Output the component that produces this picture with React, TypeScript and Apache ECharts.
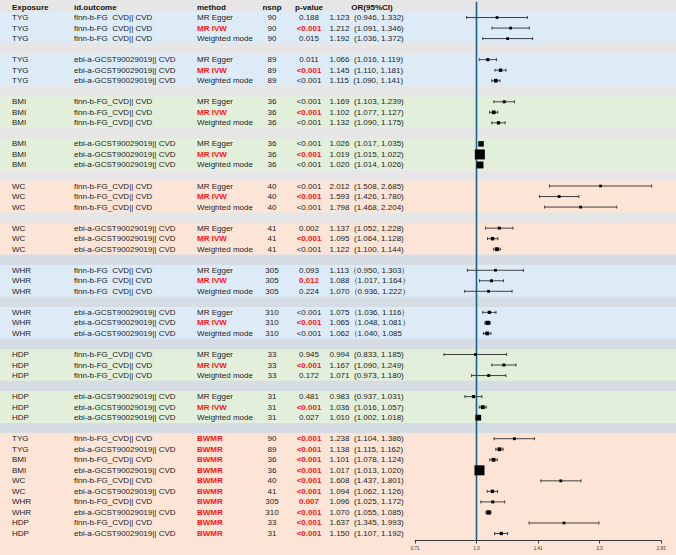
import React, { useEffect, useRef } from "react";
import * as echarts from "echarts";

// ---- table content -------------------------------------------------------
const headers = ["Exposure", "id.outcome", "method", "nsnp", "p-value", "OR(95%CI)"];

const FINN = "finn-b-FG_CVD|| CVD";
const FINN_SP = "finn-b-FG  CVD|| CVD";
const EBI = "ebi-a-GCST90029019|| CVD";

const exposure = [
  "TYG", "TYG", "TYG", "TYG", "TYG", "TYG",
  "BMI", "BMI", "BMI", "BMI", "BMI", "BMI",
  "WC", "WC", "WC", "WC", "WC", "WC",
  "WHR", "WHR", "WHR", "WHR", "WHR", "WHR",
  "HDP", "HDP", "HDP", "HDP", "HDP", "HDP",
  "TYG", "TYG", "BMI", "BMI", "WC", "WC", "WHR", "WHR", "HDP", "HDP",
];

const outcome = [
  FINN_SP, FINN_SP, FINN_SP, EBI, EBI, EBI,
  FINN, FINN, FINN, EBI, EBI, EBI,
  FINN, FINN, FINN, EBI, EBI, EBI,
  FINN_SP, FINN_SP, FINN_SP, EBI, EBI, EBI,
  FINN, FINN, FINN, EBI, EBI, EBI,
  FINN, EBI, FINN, EBI, FINN, EBI, FINN, EBI, FINN, EBI,
];

const method = [
  "MR Egger", "MR IVW", "Weighted mode", "MR Egger", "MR IVW", "Weighted mode",
  "MR Egger", "MR IVW", "Weighted mode", "MR Egger", "MR IVW", "Weighted mode",
  "MR Egger", "MR IVW", "Weighted mode", "MR Egger", "MR IVW", "Weighted mode",
  "MR Egger", "MR IVW", "Weighted mode", "MR Egger", "MR IVW", "Weighted mode",
  "MR Egger", "MR IVW", "Weighted mode", "MR Egger", "MR IVW", "Weighted mode",
  "BWMR", "BWMR", "BWMR", "BWMR", "BWMR", "BWMR", "BWMR", "BWMR", "BWMR", "BWMR",
];

const nsnp = [
  90, 90, 90, 89, 89, 89,
  36, 36, 36, 36, 36, 36,
  40, 40, 40, 41, 41, 41,
  305, 305, 305, 310, 310, 310,
  33, 33, 33, 31, 31, 31,
  90, 89, 36, 36, 40, 41, 305, 310, 33, 31,
];

const pValue = [
  "0.188", "<0.001", "0.015", "0.011", "<0.001", "<0.001",
  "<0.001", "<0.001", "<0.001", "<0.001", "<0.001", "<0.001",
  "<0.001", "<0.001", "<0.001", "0.002", "<0.001", "<0.001",
  "0.093", "0.012", "0.224", "<0.001", "<0.001", "<0.001",
  "0.945", "<0.001", "0.172", "0.481", "<0.001", "0.027",
  "<0.001", "<0.001", "<0.001", "<0.001", "<0.001", "<0.001", "0.007", "<0.001", "<0.001", "<0.001",
];

const oddsRatio = [
  1.123, 1.212, 1.192, 1.066, 1.145, 1.115,
  1.169, 1.102, 1.132, 1.026, 1.019, 1.020,
  2.012, 1.593, 1.798, 1.137, 1.095, 1.122,
  1.113, 1.088, 1.070, 1.075, 1.065, 1.062,
  0.994, 1.167, 1.071, 0.983, 1.036, 1.010,
  1.238, 1.138, 1.101, 1.017, 1.608, 1.094, 1.096, 1.070, 1.637, 1.150,
];

const ciLow = [
  0.946, 1.091, 1.036, 1.016, 1.110, 1.090,
  1.103, 1.077, 1.090, 1.017, 1.015, 1.014,
  1.508, 1.426, 1.468, 1.052, 1.064, 1.100,
  0.950, 1.017, 0.936, 1.036, 1.048, 1.040,
  0.833, 1.090, 0.973, 0.937, 1.016, 1.002,
  1.104, 1.115, 1.078, 1.013, 1.437, 1.062, 1.025, 1.055, 1.345, 1.107,
];

const ciHigh = [
  1.332, 1.346, 1.372, 1.119, 1.181, 1.141,
  1.239, 1.127, 1.175, 1.035, 1.022, 1.026,
  2.685, 1.780, 2.204, 1.228, 1.128, 1.144,
  1.303, 1.164, 1.222, 1.116, 1.081, 1.085,
  1.185, 1.249, 1.180, 1.031, 1.057, 1.018,
  1.386, 1.162, 1.124, 1.020, 1.801, 1.126, 1.172, 1.085, 1.993, 1.192,
];

const tickLabels = ["0.71", "1.0", "1.41", "2.0", "2.83"];

// WHR two-sample rows were typeset with full-width brackets; the last one is left open.
const cjkBracketRows = new Set([18, 19, 20, 21, 22, 23]);
const unclosedRows = new Set([23]);

// ---- layout ---------------------------------------------------------------
const W = 676;
const H = 555;
const ROW_H = 10.53;
const HEADER_Y = 7; // centre of the header row
const AXIS_Y = 540.5;
const PLOT_L = 415;
const PLOT_R = 661;
const FONT = "'Liberation Sans', Arial, Helvetica, sans-serif";

const COL_EXPOSURE = 12;
const COL_OUTCOME = 74;
const COL_METHOD = 197;
const COL_NSNP = 272;
const COL_P = 309;
const COL_OR = 329.5;
const COL_OR_HEAD = 372;

const BLUE = "#ddebf7";
const GREEN = "#e2efda";
const PEACH = "#fce4d6";
const GRAY = "#e7e6e6";
const BLUE_GRAY = "#d6dce4";
const RED = "#ff1414";
const INK = "#1e1e1e";

const groupFill = [BLUE, BLUE, GREEN, GREEN, PEACH, PEACH, BLUE, BLUE, GREEN, GREEN];

const rowY = (r: number) => HEADER_Y + r * ROW_H;
const displayRow = (k: number) =>
  k < 30 ? 1 + Math.floor(k / 3) * 4 + (k % 3) : 41 + (k - 30);
const TOTAL_ROWS = 51;

const bandFill = (r: number) => {
  if (r === 0) return GRAY;
  if (r >= 41) return PEACH;
  const g = Math.floor((r - 1) / 4);
  const pos = (r - 1) % 4;
  if (pos === 3) return g >= 5 ? BLUE_GRAY : GRAY;
  return groupFill[g];
};

const fmt = (v: number) => v.toFixed(3);
const orLabel = (k: number) => {
  if (cjkBracketRows.has(k)) {
    return `${fmt(oddsRatio[k])}（${fmt(ciLow[k])}, ${fmt(ciHigh[k])}${unclosedRows.has(k) ? "" : "）"}`;
  }
  return `${fmt(oddsRatio[k])}  (${fmt(ciLow[k])}, ${fmt(ciHigh[k])})`;
};

// marker size grows with precision (inverse of the log-scale standard error)
const markerSize = (lo: number, hi: number) => {
  const se = Math.log(hi / lo) / 3.92;
  return Math.min(11, 2.6 + 0.013 / se);
};

const isHighlight = (m: string) => m === "MR IVW" || m === "BWMR";

function buildGraphics() {
  const els: any[] = [];
  for (let r = 0; r < TOTAL_ROWS; r++) {
    const top = r === 0 ? 0 : rowY(r) - ROW_H / 2;
    const bottom = r === TOTAL_ROWS - 1 ? H : rowY(r) + ROW_H / 2 + 0.4;
    els.push({
      type: "rect",
      silent: true,
      z: -10,
      shape: { x: 0, y: top, width: W, height: bottom - top },
      style: { fill: bandFill(r) },
    });
  }
  const text = (t: string, x: number, y: number, align: string, bold = false, fill = INK) => ({
    type: "text",
    silent: true,
    z: 10,
    x,
    y,
    style: {
      text: t,
      fill,
      fontSize: 8,
      fontFamily: FONT,
      fontWeight: bold ? "bold" : "normal",
      align,
      verticalAlign: "middle",
    },
  });
  const hx = [COL_EXPOSURE, COL_OUTCOME, COL_METHOD, COL_NSNP, COL_P, COL_OR_HEAD];
  const ha = ["left", "left", "left", "center", "center", "center"];
  headers.forEach((h, i) => els.push(text(h, hx[i], HEADER_Y, ha[i], true, "#111")));

  for (let k = 0; k < exposure.length; k++) {
    const y = rowY(displayRow(k));
    const hi = isHighlight(method[k]);
    els.push(text(exposure[k], COL_EXPOSURE, y, "left"));
    els.push(text(outcome[k], COL_OUTCOME, y, "left"));
    els.push(text(method[k], COL_METHOD, y, "left", hi, hi ? RED : INK));
    els.push(text(String(nsnp[k]), COL_NSNP, y, "center"));
    els.push(text(pValue[k], COL_P, y, "center", hi, hi ? RED : INK));
    els.push(text(orLabel(k), COL_OR, y, "left"));
  }
  return els;
}

export default function App() {
  const ref = useRef<HTMLDivElement>(null);

  useEffect(() => {
    if (!ref.current) return;
    const chart = echarts.init(ref.current, undefined, { renderer: "svg" });

    const gridTop = HEADER_Y - ROW_H / 2;
    const gridHeight = AXIS_Y - gridTop;
    const yMax = -0.5 + gridHeight / ROW_H;

    const forestData = oddsRatio.map((v, k) => [
      Math.log2(v),
      Math.log2(ciLow[k]),
      Math.log2(ciHigh[k]),
      displayRow(k),
      markerSize(ciLow[k], ciHigh[k]),
    ]);

    chart.setOption({
      animation: false,
      backgroundColor: "#ffffff",
      graphic: { elements: buildGraphics() },
      grid: {
        left: PLOT_L,
        width: PLOT_R - PLOT_L,
        top: gridTop,
        height: gridHeight,
        containLabel: false,
      },
      xAxis: {
        type: "value",
        position: "bottom",
        min: -0.5,
        max: 1.5,
        interval: 0.5,
        splitLine: { show: false },
        axisLine: { show: true, onZero: false, lineStyle: { color: "#3a3a3a", width: 1 } },
        axisTick: { show: true, length: 3, lineStyle: { color: "#3a3a3a" } },
        axisLabel: {
          fontSize: 4.5,
          color: "#333",
          fontFamily: FONT,
          margin: 5,
          formatter: (v: number) => tickLabels[Math.round((v + 0.5) / 0.5)] ?? "",
        },
      },
      yAxis: {
        type: "value",
        inverse: true,
        min: -0.5,
        max: yMax,
        show: false,
      },
      series: [
        {
          type: "line",
          z: 3,
          silent: true,
          showSymbol: false,
          data: [
            [0, -0.5],
            [0, yMax],
          ],
          lineStyle: { color: "#1d5f88", width: 1.6 },
        },
        {
          type: "custom",
          z: 4,
          silent: true,
          data: forestData,
          encode: { x: [0, 1, 2], y: 3 },
          renderItem: (_params: any, api: any) => {
            const r = api.value(3);
            const c = api.coord([api.value(0), r]);
            const pl = api.coord([api.value(1), r]);
            const ph = api.coord([api.value(2), r]);
            const s = api.value(4);
            const y = c[1];
            const stroke = { stroke: "#2e2e2e", lineWidth: 0.9 };
            return {
              type: "group",
              children: [
                { type: "line", shape: { x1: pl[0], y1: y, x2: ph[0], y2: y }, style: stroke },
                { type: "line", shape: { x1: pl[0], y1: y - 1.5, x2: pl[0], y2: y + 1.5 }, style: stroke },
                { type: "line", shape: { x1: ph[0], y1: y - 1.5, x2: ph[0], y2: y + 1.5 }, style: stroke },
                {
                  type: "rect",
                  shape: { x: c[0] - s / 2, y: y - s / 2, width: s, height: s },
                  style: { fill: "#050505" },
                },
              ],
            };
          },
        },
      ],
    });

    return () => chart.dispose();
  }, []);

  return (
    <div
      ref={ref}
      style={{ position: "absolute", left: 0, top: 0, width: W, height: H }}
    />
  );
}
